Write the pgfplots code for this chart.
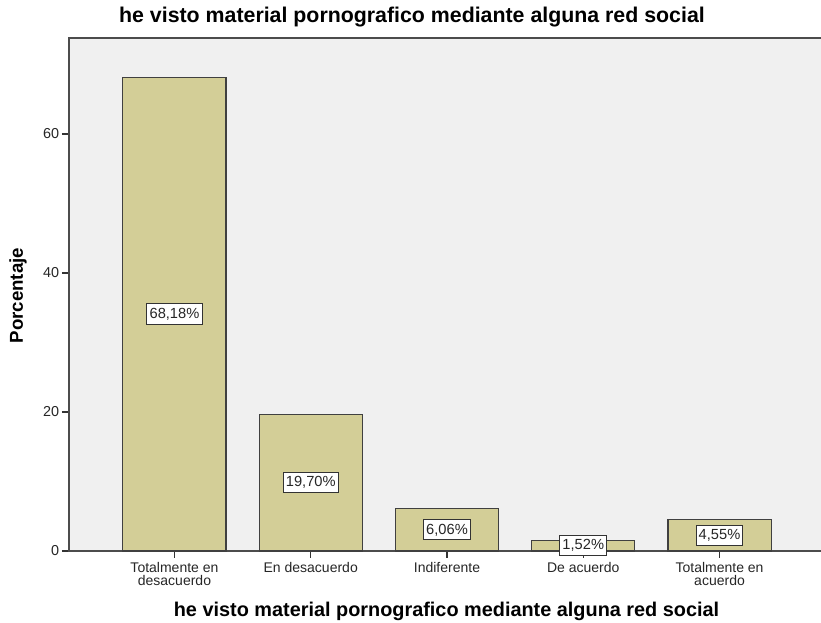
\documentclass[border=0pt]{standalone}
\usepackage{fontspec}
\setmainfont{Liberation Sans}
\usepackage{pgfplots}
\usepackage{pgfplotstable}
\pgfplotsset{compat=1.18}

\definecolor{barfill}{HTML}{D3CE97}
\definecolor{bggray}{HTML}{F0F0F0}

\pgfplotstableread{
x pct
0 68.18
1 19.70
2 6.06
3 1.52
4 4.55
}\datatable

\begin{document}
\begin{tikzpicture}[x=1pt,y=1pt]
% page = 821x623 px at 0.75pt per px
\path[use as bounding box] (0,0) rectangle (615.75,467.25);
\begin{axis}[
  at={(51.75pt,54pt)}, anchor=south west,
  scale only axis,
  width=567pt, height=384.75pt,
  xmin=-0.774, xmax=4.774,
  ymin=0, ymax=73.8,
  axis background/.style={fill=bggray},
  axis line style={black!70, line width=0.9pt},
  tick style={black!80, line width=0.9pt},
  tick align=outside,
  major tick length=5.25pt,
  xtick pos=bottom, ytick pos=left,
  ytick={0,20,40,60},
  xtick=data,
  xticklabels={{Totalmente en\\desacuerdo},{En desacuerdo},{Indiferente},{De acuerdo},{Totalmente en\\acuerdo}},
  xticklabel style={align=center, font=\fontsize{10.5}{9.8}\selectfont, text=black!85, inner sep=2pt, yshift=-1pt},
  yticklabel style={font=\fontsize{10.8}{12}\selectfont, text=black!85, inner sep=2pt},
  /pgf/number format/assume math mode=true,
  clip=false,
]
\addplot[ybar, bar width=0.756, fill=barfill, draw=black!75, line width=0.8pt]
  table[x=x, y=pct] {\datatable};
\addplot[draw=none, mark=none,
  point meta={\thisrow{pct}},
  nodes near coords={\pgfmathprintnumber[use comma,fixed,fixed zerofill,precision=2]{\pgfplotspointmeta}\%},
  every node near coord/.style={anchor=center, fill=white, draw=black!80, line width=0.75pt,
    inner xsep=2pt, inner ysep=3pt, font=\fontsize{11}{12}\selectfont, text=black!85},
] table[x=x, y expr=\thisrow{pct}/2] {\datatable};
\end{axis}
\node[font=\bfseries\fontsize{16}{18}\selectfont] at (309,454.5) {he visto material pornografico mediante alguna red social};
\node[font=\bfseries\fontsize{14.9}{17}\selectfont] at (334.9,9) {he visto material pornografico mediante alguna red social};
\node[font=\bfseries\fontsize{14}{16}\selectfont, rotate=90] at (13.5,245.5) {Porcentaje};
\end{tikzpicture}
\end{document}
